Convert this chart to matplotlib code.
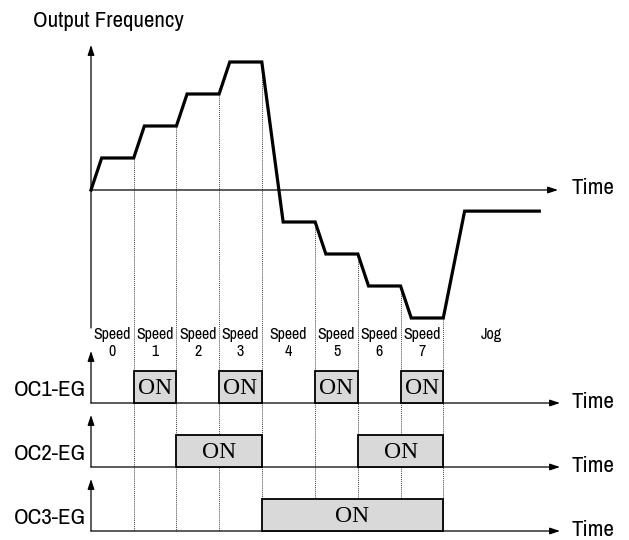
import numpy as np
import matplotlib
matplotlib.use("Agg")
import matplotlib.pyplot as plt
from matplotlib.patches import Rectangle

# ---------------- data ----------------
boundaries = [0, 1, 2, 3, 4, 5.25, 6.25, 7.25, 8.25]
speed_labels = ["Speed\n0", "Speed\n1", "Speed\n2", "Speed\n3",
                "Speed\n4", "Speed\n5", "Speed\n6", "Speed\n7"]
jog_label = "Jog"
jog_end = 10.5

curve_t = [0, 0.25, 1, 1.25, 2, 2.25, 3, 3.25, 4, 4.5, 5.25, 5.5, 6.25,
           6.5, 7.25, 7.5, 8.25, 8.75, 10.5]
curve_level = [0, 1, 1, 2, 2, 3, 3, 4, 4, -1, -1, -2, -2, -3, -3, -4, -4,
               -0.66, -0.66]

signal_names = ["OC1-EG", "OC2-EG", "OC3-EG"]
oc1_state = [0, 1, 0, 1, 0, 1, 0, 1]
oc2_state = [0, 0, 1, 1, 0, 0, 1, 1]
oc3_state = [0, 0, 0, 0, 1, 1, 1, 1]
states = [oc1_state, oc2_state, oc3_state]

# ---------------- layout ----------------
W, H = 629, 540
X0 = 91          # pixel of t = 0
PX_PER_T = 42.7
MAIN_Y0 = 190
LEVEL_PX = 32
ROW_BASE = [403, 467, 531]
BOX_H = 32
ARROW_H = 52
AXIS_END_T = (558 - X0) / PX_PER_T

sans = ["Archivo Narrow", "Liberation Sans", "DejaVu Sans"]
serif = ["Liberation Serif", "DejaVu Serif"]
BIG = 16.5
SMALL = 11.5

fig = plt.figure(figsize=(W / 100, H / 100), dpi=100)
ax = fig.add_axes([0, 0, 1, 1])
ax.set_xlim(-X0 / PX_PER_T, (W - X0) / PX_PER_T)
ax.set_ylim(H, 0)
ax.axis("off")

def ymain(level):
    return MAIN_Y0 - LEVEL_PX * np.asarray(level)

arrow_kw = dict(arrowstyle="-|>,head_length=0.6,head_width=0.2",
                color="black", lw=0.9, shrinkA=0, shrinkB=0)

# main axes
ax.annotate("", xy=(0, 45), xytext=(0, 328), arrowprops=arrow_kw)
ax.annotate("", xy=(AXIS_END_T, MAIN_Y0), xytext=(0, MAIN_Y0), arrowprops=arrow_kw)
ax.text(-58 / PX_PER_T, 21, "Output Frequency", family=sans, fontsize=BIG,
        ha="left", va="center")
ax.text(AXIS_END_T + 14 / PX_PER_T, MAIN_Y0 - 2, "Time", family=sans,
        fontsize=BIG, ha="left", va="center")

# curve
ax.plot(curve_t, ymain(curve_level), color="black", lw=2.3, zorder=5,
        solid_joinstyle="miter")

# dotted guide lines
for b in boundaries[1:]:
    ytop = float(ymain(np.interp(b, curve_t, curve_level)))
    ax.plot([b, b], [ytop, ROW_BASE[-1]], color="#444444", lw=0.7,
            linestyle=(0, (1, 1)), zorder=1)

# speed labels
for i, lab in enumerate(speed_labels):
    xc = (boundaries[i] + boundaries[i + 1]) / 2
    ax.text(xc, 343, lab, family=sans, fontsize=SMALL, ha="center", va="center",
            linespacing=1.15)
ax.text((boundaries[-1] + jog_end) / 2, 334, jog_label, family=sans,
        fontsize=SMALL, ha="center", va="center")

# signal rows
for name, st, yb in zip(signal_names, states, ROW_BASE):
    ax.annotate("", xy=(0, yb - ARROW_H), xytext=(0, yb), arrowprops=arrow_kw)
    ax.annotate("", xy=(AXIS_END_T + 2 / PX_PER_T, yb), xytext=(0, yb),
                arrowprops=arrow_kw)
    ax.text(-5 / PX_PER_T, yb - 12.5, name, family=sans, fontsize=BIG,
            ha="right", va="center")
    ax.text(AXIS_END_T + 14 / PX_PER_T, yb - 1, "Time", family=sans,
            fontsize=BIG, ha="left", va="center")
    # merge consecutive on intervals
    i = 0
    while i < len(st):
        if st[i]:
            j = i
            while j + 1 < len(st) and st[j + 1]:
                j += 1
            x1, x2 = boundaries[i], boundaries[j + 1]
            ax.add_patch(Rectangle((x1, yb - BOX_H), x2 - x1, BOX_H,
                                   facecolor="#d9d9d9", edgecolor="black",
                                   lw=1.3, zorder=4))
            ax.text((x1 + x2) / 2, yb - BOX_H / 2 + 1, "ON", family=serif,
                    fontsize=17, ha="center", va="center", zorder=6)
            i = j + 1
        else:
            i += 1

fig.savefig("out.png", dpi=100)
